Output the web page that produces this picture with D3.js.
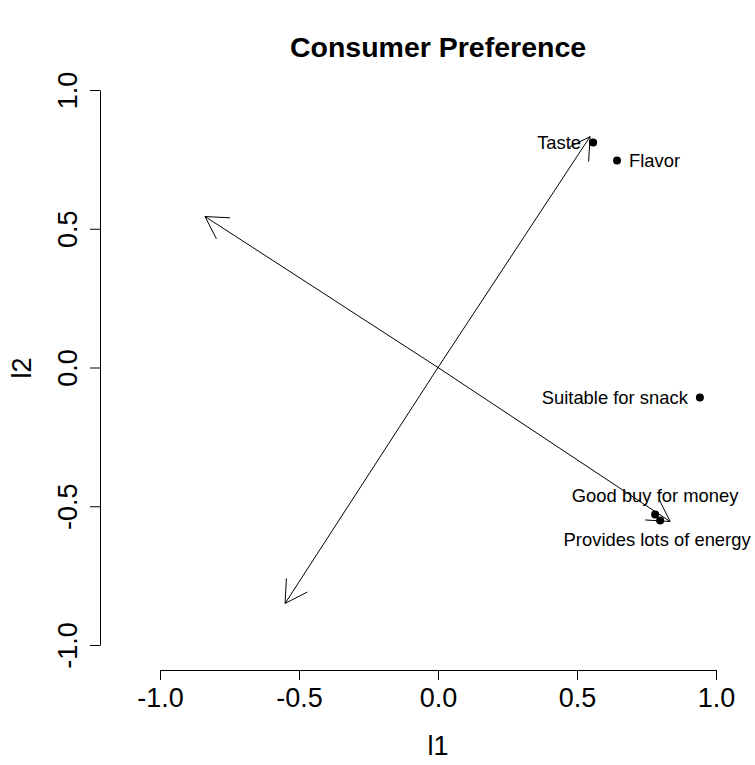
<!doctype html>
<html>
<head>
<meta charset="utf-8">
<script src="https://cdn.jsdelivr.net/npm/d3@7"></script>
<style>
  body { margin: 0; background: #fff; }
  svg { display: block; font-family: "Liberation Sans", Arial, sans-serif; }
  .axis path, .axis line { stroke: #000; stroke-width: 1; }
  .axis text { fill: #000; font-size: 27px; }
</style>
</head>
<body>
<svg width="755" height="765"></svg>
<script>
// attribute positions on the two dimensions
var attributes = ["Taste", "Flavor", "Suitable for snack", "Good buy for money", "Provides lots of energy"];
var dim1 = [0.558, 0.644, 0.942, 0.781, 0.799];
var dim2 = [0.811, 0.746, -0.108, -0.530, -0.551];

// arrow end points (all start at origin)
var arrowX = [-0.838, 0.835, 0.547, -0.550];
var arrowY = [0.544, -0.555, 0.832, -0.850];

var tickVals = [-1.0, -0.5, 0.0, 0.5, 1.0];

var svg = d3.select("svg");

var xScale = d3.scaleLinear().domain([-1, 1]).range([160, 716]);
var yScale = d3.scaleLinear().domain([-1, 1]).range([645, 90]);

// title
svg.append("text")
   .attr("x", 438).attr("y", 57)
   .attr("text-anchor", "middle")
   .style("font-size", "28.5px").style("font-weight", "bold")
   .text("Consumer Preference");

// x axis
var xAxis = d3.axisBottom(xScale)
              .tickValues(tickVals)
              .tickSize(10).tickSizeOuter(0).tickPadding(8)
              .tickFormat(function(d) { return d.toFixed(1); });
svg.append("g").attr("class", "axis")
   .attr("transform", "translate(0,670)")
   .call(xAxis);

// y axis, labels parallel to the axis like base R
var yAxis = d3.axisLeft(yScale)
              .tickValues(tickVals)
              .tickSize(10).tickSizeOuter(0)
              .tickFormat(function(d) { return d.toFixed(1); });
var yG = svg.append("g").attr("class", "axis")
            .attr("transform", "translate(100,0)")
            .call(yAxis);
yG.selectAll(".tick text")
  .attr("x", 0).attr("dy", null)
  .attr("y", -23)
  .attr("text-anchor", "middle")
  .attr("transform", "rotate(-90)");

// axis titles
svg.append("text")
   .attr("x", 438).attr("y", 755)
   .attr("text-anchor", "middle")
   .style("font-size", "27px")
   .text("l1");
svg.append("text")
   .attr("transform", "translate(31,368) rotate(-90)")
   .attr("text-anchor", "middle")
   .style("font-size", "27px")
   .text("l2");

// arrows from origin with open heads
var headLen = 25, headAng = Math.PI / 6;
arrowX.forEach(function(ax, i) {
    var x0 = xScale(0), y0 = yScale(0);
    var x1 = xScale(ax), y1 = yScale(arrowY[i]);
    var ang = Math.atan2(y0 - y1, x0 - x1);
    var p = d3.path();
    p.moveTo(x0, y0); p.lineTo(x1, y1);
    p.moveTo(x1 + headLen * Math.cos(ang + headAng), y1 + headLen * Math.sin(ang + headAng));
    p.lineTo(x1, y1);
    p.lineTo(x1 + headLen * Math.cos(ang - headAng), y1 + headLen * Math.sin(ang - headAng));
    svg.append("path")
       .attr("d", p.toString())
       .attr("fill", "none")
       .attr("stroke", "#000")
       .attr("stroke-width", 1);
});

// points
svg.selectAll("circle.pt")
   .data(attributes)
   .enter().append("circle")
   .attr("class", "pt")
   .attr("cx", function(d, i) { return xScale(dim1[i]); })
   .attr("cy", function(d, i) { return yScale(dim2[i]); })
   .attr("r", 4)
   .attr("fill", "#000");

// labels: left, right, left, above, below (R pos 2,4,2,3,1)
var side = { "Taste": "left", "Flavor": "right", "Suitable for snack": "left",
             "Good buy for money": "above", "Provides lots of energy": "below" };
svg.selectAll("text.lab")
   .data(attributes)
   .enter().append("text")
   .attr("class", "lab")
   .style("font-size", "18.4px")
   .attr("x", function(d, i) {
       var x = xScale(dim1[i]);
       if (side[d] == "left") return x - 12;
       if (side[d] == "right") return x + 12;
       if (side[d] == "below") return x - 3;
       return x;
   })
   .attr("y", function(d, i) {
       var y = yScale(dim2[i]);
       if (side[d] == "above") return y - 19;
       if (side[d] == "below") return y + 19;
       return y;
   })
   .attr("dy", "0.35em")
   .attr("text-anchor", function(d) {
       if (side[d] == "left") return "end";
       if (side[d] == "right") return "start";
       return "middle";
   })
   .text(function(d) { return d; });
</script>
</body>
</html>
